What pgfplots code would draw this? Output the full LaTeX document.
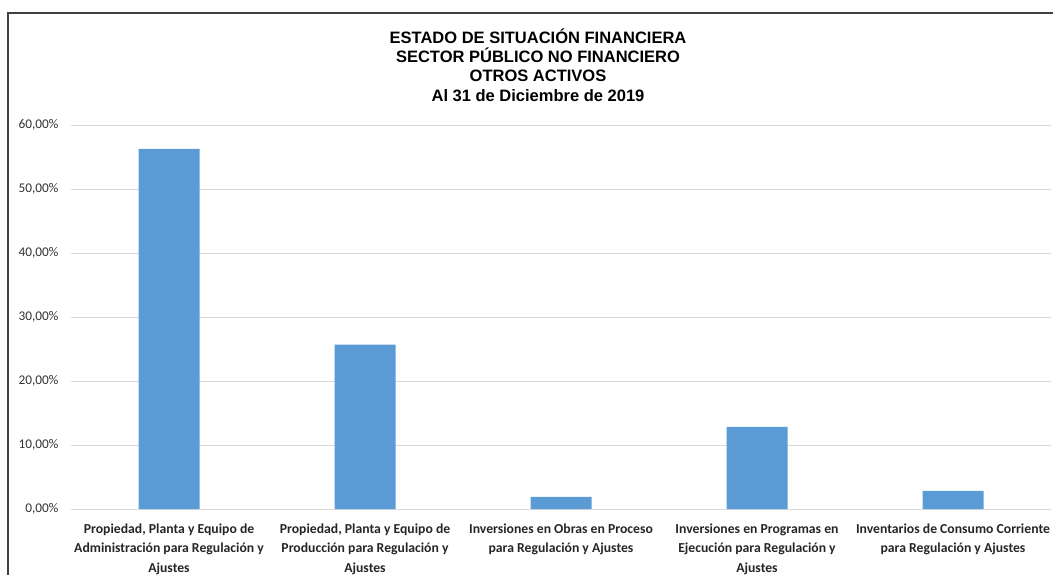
\documentclass[border=0pt]{standalone}
\usepackage{pgfplots}
\pgfplotsset{compat=1.18}
\usepackage{fontspec}
\setmainfont{Carlito}
\newfontfamily\arialfont{Liberation Sans}
\definecolor{barblue}{HTML}{5B9BD5}
\definecolor{gridgray}{HTML}{D9D9D9}
\definecolor{framegray}{HTML}{404040}
\begin{document}
\begin{tikzpicture}[x=1pt,y=1pt]
\useasboundingbox (0,0) rectangle (1053,574);
\draw[framegray, line width=1.4pt] (8,-5) -- (8,561) -- (1060,561);
\node[align=center, font=\arialfont\bfseries\fontsize{16.5}{19.2}\selectfont, anchor=center] at (538,509) {ESTADO DE SITUACIÓN FINANCIERA\\SECTOR PÚBLICO NO FINANCIERO\\OTROS ACTIVOS\\Al 31 de Diciembre de 2019};
\begin{axis}[
  at={(71pt,65pt)}, anchor=south west,
  scale only axis, width=980pt, height=384pt,
  xmin=-0.5, xmax=4.5, ymin=0, ymax=60,
  axis line style={draw=none},
  ymajorgrids, grid style={gridgray, line width=0.9pt},
  major tick length=0pt,
  ytick={0,10,20,30,40,50,60},
  yticklabels={{0,00\%},{10,00\%},{20,00\%},{30,00\%},{40,00\%},{50,00\%},{60,00\%}},
  yticklabel style={font=\fontsize{13.3}{15}\selectfont, text=black!80, xshift=-9pt},
  xtick={0,1,2,3,4},
  xticklabels={{Propiedad, Planta y Equipo de\\Administración para Regulación y\\Ajustes},
               {Propiedad, Planta y Equipo de\\Producción para Regulación y\\Ajustes},
               {Inversiones en Obras en Proceso\\para Regulación y Ajustes},
               {Inversiones en Programas en\\Ejecución para Regulación y\\Ajustes},
               {Inventarios de Consumo Corriente\\para Regulación y Ajustes}},
  xticklabel style={font=\bfseries\fontsize{13.7}{19.5}\selectfont, align=center, anchor=north, yshift=-11pt, text=black!85},
  clip=false,
]
\addplot[ybar, bar width=61pt, fill=barblue, draw=none] coordinates {
  (0,56.27) (1,25.7) (2,1.91) (3,12.85) (4,2.85)
};
\end{axis}
\end{tikzpicture}
\end{document}
